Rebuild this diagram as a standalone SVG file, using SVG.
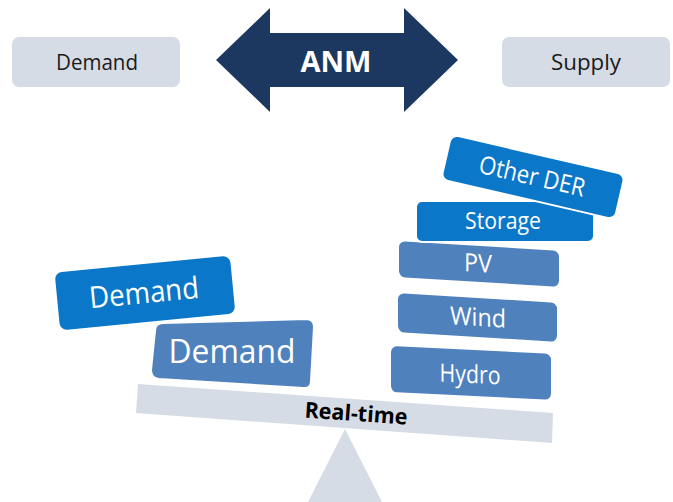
<svg xmlns="http://www.w3.org/2000/svg" width="673" height="502" viewBox="0 0 673 502">
  <style>
    text { font-family: "Open Sans", "Noto Sans", "Liberation Sans", sans-serif; text-anchor: middle; }
    .label-box { fill: #d6dce5; }
    .label-txt { fill: #1a1a1a; font-size: 22px; }
    .bright { fill: #0b77c9; stroke: #ffffff; stroke-width: 2; }
    .steel { fill: #4f81bd; stroke: #ffffff; stroke-width: 2; }
    .white-txt { fill: #ffffff; }
    .base { fill: #d6dce5; }
  </style>

  <!-- header labels -->
  <g id="demand-label">
    <rect class="label-box" x="12" y="37" width="168" height="50" rx="7"/>
    <text class="label-txt" x="97" y="70" textLength="82" lengthAdjust="spacingAndGlyphs">Demand</text>
  </g>
  <g id="supply-label">
    <rect class="label-box" x="502" y="37" width="168" height="50" rx="7"/>
    <text class="label-txt" x="586" y="70" textLength="70" lengthAdjust="spacingAndGlyphs">Supply</text>
  </g>

  <!-- double-headed ANM arrow -->
  <g id="connectors">
    <polygon fill="#1c3860" points="216,60 270,8 270,33 404,33 404,8 458,60 404,112 404,87 270,87 270,112"/>
    <text x="336" y="72" fill="#ffffff" font-size="29" font-weight="bold" textLength="71" lengthAdjust="spacingAndGlyphs">ANM</text>
  </g>

  <!-- seesaw fulcrum and beam -->
  <g id="fulcrum">
    <polygon class="base" points="345,429 308,502 382,502"/>
  </g>
  <g id="beam">
    <polygon class="base" points="138,384 553,413 552,443 136,413"/>
    <text x="356" y="421" transform="rotate(4 356 414)" fill="#000000" font-size="22" font-weight="bold" textLength="103" lengthAdjust="spacingAndGlyphs">Real-time</text>
  </g>

  <!-- demand side -->
  <g id="demand-base">
    <path class="steel" d="M163,323 L306,319 Q314,319 314,327 L311,381 Q311,389 303,388 L159,379 Q151,378 151,370 L155,331 Q155,323 163,323 Z"/>
    <text class="white-txt" x="232" y="363" font-size="32" textLength="127" lengthAdjust="spacingAndGlyphs">Demand</text>
  </g>
  <g id="demand-extra" transform="translate(145 293) rotate(-5.5)">
    <rect class="bright" x="-89" y="-30" width="178" height="60" rx="8"/>
    <text class="white-txt" x="-1" y="10" font-size="30" textLength="110" lengthAdjust="spacingAndGlyphs">Demand</text>
  </g>

  <!-- supply side stack -->
  <g id="hydro" transform="translate(390 345) skewY(2.8)">
    <rect class="steel" x="0" y="0" width="162" height="48" rx="7"/>
    <text class="white-txt" x="80" y="34" font-size="25" textLength="61" lengthAdjust="spacingAndGlyphs">Hydro</text>
  </g>
  <g id="wind" transform="translate(397 292) skewY(3.5)">
    <rect class="steel" x="0" y="0" width="161" height="41" rx="7"/>
    <text class="white-txt" x="81" y="29" font-size="25" textLength="56" lengthAdjust="spacingAndGlyphs">Wind</text>
  </g>
  <g id="pv" transform="translate(398 240) skewY(3.5)">
    <rect class="steel" x="0" y="0" width="162" height="38" rx="7"/>
    <text class="white-txt" x="80" y="27" font-size="25" textLength="28" lengthAdjust="spacingAndGlyphs">PV</text>
  </g>
  <g id="storage">
    <rect class="bright" x="416" y="201" width="178" height="41" rx="6"/>
    <text class="white-txt" x="503" y="229" font-size="24" textLength="76" lengthAdjust="spacingAndGlyphs">Storage</text>
  </g>
  <g id="other-der" transform="translate(533 177) rotate(13)">
    <rect class="bright" x="-89" y="-23" width="178" height="46" rx="7"/>
    <text class="white-txt" x="-1" y="8" font-size="25" textLength="108" lengthAdjust="spacingAndGlyphs">Other DER</text>
  </g>
</svg>
